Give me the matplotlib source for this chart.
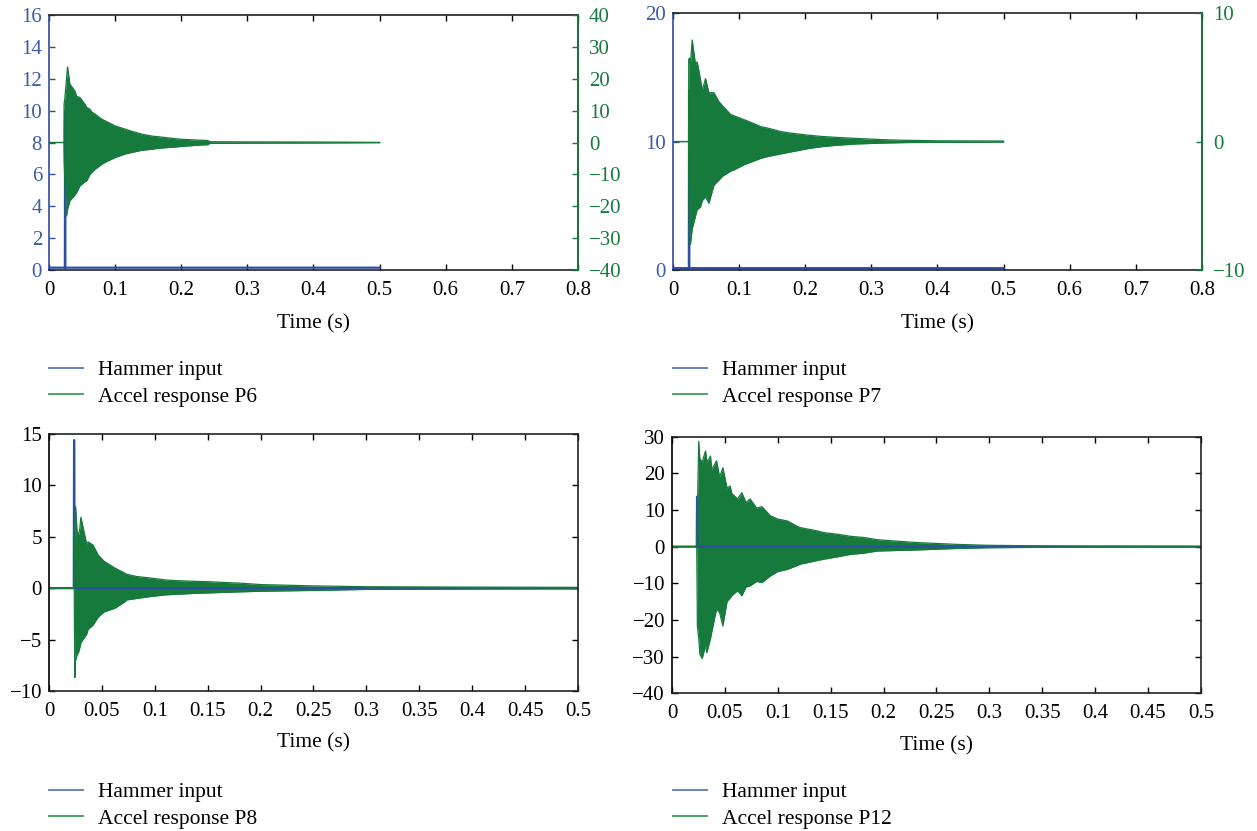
import matplotlib
matplotlib.use("Agg")
import matplotlib.pyplot as plt
import numpy as np

plt.rcParams['font.family'] = ['Liberation Serif', 'DejaVu Serif']
plt.rcParams['axes.unicode_minus'] = True

BLUE = '#2d4ea3'
BLUE_TXT = '#3c5aa8'
GREEN = '#157a3c'

# ---- data ----
# P6: hammer on left axis, response (envelope of the dense trace) on right axis
p6_hammer_t = [0, 0.0240, 0.0243, 0.0247, 0.5]
p6_hammer_v = [0.15, 0.15, 10.0, 0.15, 0.15]
p6_t = [0, 0.0225, 0.0228, 0.024, 0.0265, 0.028, 0.0315, 0.039, 0.0417, 0.0467,
        0.0543, 0.057, 0.062, 0.0645, 0.0696, 0.08, 0.0848, 0.1, 0.115, 0.1254,
        0.141, 0.156, 0.166, 0.191, 0.2015, 0.232, 0.24, 0.243, 0.3, 0.4, 0.5]
p6_upper = [0, 0, 12, 14, 20, 23.7, 18.3, 16.2, 14.5, 14.1,
            12, 11, 10.4, 9.6, 8.9, 7.3, 6.8, 5.2, 4.2, 3.5,
            2.6, 2.0, 1.8, 1.2, 1.0, 0.7, 0.65, 0.25, 0.2, 0.15, 0.05]
p6_lower = [0, 0, -6, -12, -23, -21, -18.3, -16.5, -15.7, -13.6,
            -12.3, -12, -10, -9.4, -8.4, -6.8, -6.2, -4.7, -3.6, -3.1,
            -2.4, -2.1, -1.8, -1.4, -1.2, -0.75, -0.7, -0.3, -0.2, -0.15, -0.05]

# P7
p7_hammer_t = [0, 0.0240, 0.0243, 0.0247, 0.5]
p7_hammer_v = [0.15, 0.15, 14.0, 0.15, 0.15]
p7_t = [0, 0.0236, 0.0238, 0.025, 0.0264, 0.029, 0.034, 0.0366, 0.0416, 0.0442,
        0.0492, 0.0543, 0.0619, 0.0695, 0.0747, 0.0873, 0.0924, 0.1076, 0.1128, 0.133,
        0.143, 0.1636, 0.179, 0.204, 0.2245, 0.245, 0.275, 0.316, 0.35, 0.4, 0.5]
p7_upper = [0, 0, 6.4, 6.5, 6.0, 7.9, 6.0, 6.2, 4.8, 4.0,
            4.9, 3.8, 3.8, 3.1, 2.8, 2.1, 2.0, 1.7, 1.6, 1.16,
            1.05, 0.77, 0.65, 0.5, 0.4, 0.33, 0.25, 0.15, 0.1, 0.06, 0.04]
p7_lower = [0, 0, -3, -7, -8.0, -6.8, -5.8, -5.3, -5.1, -4.6,
            -4.3, -4.8, -3.4, -3.0, -2.7, -2.3, -2.2, -1.8, -1.7, -1.3,
            -1.17, -0.95, -0.8, -0.55, -0.4, -0.3, -0.19, -0.12, -0.08, -0.06, -0.04]

# P8 (single axis)
p8_hammer_t = [0, 0.0234, 0.0237, 0.0242, 0.5]
p8_hammer_v = [0, 0, 14.4, 0, 0]
p8_t = [0, 0.0238, 0.0244, 0.0251, 0.0265, 0.028, 0.0291, 0.0301, 0.0355, 0.037,
        0.0415, 0.0466, 0.0522, 0.0624, 0.0719, 0.0735, 0.083, 0.097, 0.11, 0.119,
        0.1415, 0.148, 0.18, 0.2, 0.25, 0.3, 0.4, 0.5]
p8_upper = [0, 0, 5.5, 7.95, 5.5, 5.2, 5.8, 6.9, 4.3, 4.5,
            4.2, 3.2, 2.6, 1.95, 1.45, 1.35, 1.13, 0.97, 0.8, 0.74,
            0.65, 0.64, 0.49, 0.35, 0.22, 0.14, 0.1, 0.08]
p8_lower = [0, 0, -8.7, -7.0, -6.5, -6.2, -5.8, -5.3, -4.5, -4.0,
            -3.6, -2.8, -2.3, -1.95, -1.3, -1.14, -1.0, -0.8, -0.65, -0.6,
            -0.49, -0.47, -0.36, -0.3, -0.22, -0.12, -0.08, -0.06]

# P12 (single axis)
p12_hammer_t = [0, 0.0234, 0.0237, 0.0242, 0.5]
p12_hammer_v = [0, 0, 13.6, 0, 0]
p12_t = [0, 0.0234, 0.024, 0.0253, 0.0263, 0.0285, 0.0317, 0.033, 0.0364, 0.0375,
         0.0421, 0.045, 0.0481, 0.052, 0.055, 0.0565, 0.062, 0.066, 0.07, 0.0738,
         0.08, 0.085, 0.093, 0.1, 0.109, 0.118, 0.121, 0.137, 0.144, 0.156,
         0.169, 0.181, 0.194, 0.207, 0.232, 0.27, 0.3, 0.35, 0.4, 0.5]
p12_upper = [0, 0, 10, 28.7, 24, 23, 26.1, 23, 24.7, 21,
             23.4, 19, 21.5, 16, 16.5, 14.5, 13, 14.7, 12, 13.0,
             10.5, 10.9, 8.4, 7.5, 7.0, 5.6, 5.2, 4.3, 3.8, 3.4,
             2.8, 2.5, 1.9, 1.6, 1.1, 0.6, 0.35, 0.2, 0.12, 0.05]
p12_lower = [0, 0, -21.6, -25, -29.3, -30.5, -27, -28.9, -25, -23.4,
             -17, -18, -21.6, -15, -14, -13.4, -12, -13.4, -11, -10.7,
             -9.5, -9.8, -8, -6.8, -6.2, -5.2, -4.8, -3.8, -3.4, -2.8,
             -2.1, -1.8, -1.2, -1.1, -0.9, -0.5, -0.3, -0.2, -0.1, -0.05]

FS = 15
LFS = 15.5
fig = plt.figure(figsize=(12.57, 8.31), dpi=100)


def style(ax, left_color='black', right=True):
    ax.tick_params(direction='in', length=4, width=1, labelsize=FS,
                   top=True, right=right)
    ax.tick_params(axis='x', pad=8)
    ax.tick_params(axis='y', pad=5)
    for s in ax.spines.values():
        s.set_linewidth(1.2)
        s.set_color('#222222')
    ax.spines['left'].set_color(left_color)


def response(ax, t, up, lo):
    ax.fill_between(t, lo, up, color=GREEN, lw=0)
    ax.plot(t, up, color=GREEN, lw=0.9)
    ax.plot(t, lo, color=GREEN, lw=0.9)


def legend(anchor, a_label):
    handles = [plt.Line2D([], [], color='#5a76c4', lw=1.3),
               plt.Line2D([], [], color='#3d9a5c', lw=1.3)]
    fig.legend(handles, ['Hammer input', a_label], loc='upper left',
               bbox_to_anchor=anchor, frameon=False, fontsize=LFS,
               borderpad=0, borderaxespad=0, handlelength=1.58,
               handletextpad=0.7, labelspacing=0.3)


def minus(vals):
    return [str(v).replace('-', '\u2212') for v in vals]


def two_axis_panel(rect, ht, hv, t, up, lo, yl, yl_ticks, yr, yr_ticks):
    ax = fig.add_axes(rect)
    ax.plot(ht, hv, color=BLUE, lw=1.6)
    ax.set_xlim(0, 0.8)
    ax.set_ylim(*yl)
    ax.set_yticks(yl_ticks)
    ax.set_xticks(np.arange(0, 0.81, 0.1))
    ax.set_xticklabels(['0', '0.1', '0.2', '0.3', '0.4', '0.5', '0.6', '0.7', '0.8'])
    style(ax, left_color=BLUE, right=False)
    ax.tick_params(axis='y', colors=BLUE, labelcolor=BLUE_TXT)
    ax.set_xlabel('Time (s)', fontsize=LFS, labelpad=10)
    ax2 = ax.twinx()
    response(ax2, t, up, lo)
    ax2.set_ylim(*yr)
    ax2.set_yticks(yr_ticks)
    ax2.set_yticklabels(minus(yr_ticks))
    ax2.tick_params(direction='in', length=4, width=1, labelsize=FS,
                    colors=GREEN, labelcolor=GREEN, pad=8)
    for s in ax2.spines.values():
        s.set_visible(False)
    ax2.spines['right'].set_visible(True)
    ax2.spines['right'].set_color(GREEN)
    ax2.spines['right'].set_linewidth(1.2)
    return ax


def single_panel(rect, ht, hv, t, up, lo, ylim, yticks):
    ax = fig.add_axes(rect)
    ax.plot(ht, hv, color=BLUE, lw=1.6)
    response(ax, t, up, lo)
    ax.set_xlim(0, 0.5)
    ax.set_ylim(*ylim)
    ax.set_yticks(yticks)
    ax.set_yticklabels(minus(yticks))
    xt = np.round(np.arange(0, 0.501, 0.05), 2)
    ax.set_xticks(xt)
    ax.set_xticklabels(['0' if v == 0 else f'{v:g}' for v in xt])
    style(ax)
    ax.set_xlabel('Time (s)', fontsize=LFS, labelpad=9)
    return ax


two_axis_panel([0.039, 0.675, 0.4208, 0.307], p6_hammer_t, p6_hammer_v,
               p6_t, p6_upper, p6_lower, (0, 16), list(range(0, 17, 2)),
               (-40, 40), list(range(-40, 41, 10)))
two_axis_panel([0.5354, 0.675, 0.4208, 0.3093], p7_hammer_t, p7_hammer_v,
               p7_t, p7_upper, p7_lower, (0, 20), [0, 10, 20],
               (-10, 10), [-10, 0, 10])
single_panel([0.039, 0.1685, 0.4208, 0.3093], p8_hammer_t, p8_hammer_v,
             p8_t, p8_upper, p8_lower, (-10, 15), [-10, -5, 0, 5, 10, 15])
single_panel([0.5346, 0.1657, 0.4208, 0.3089], p12_hammer_t, p12_hammer_v,
             p12_t, p12_upper, p12_lower, (-40, 30), list(range(-40, 31, 10)))

legend((0.039, 0.5665), 'Accel response P6')
legend((0.5354, 0.5665), 'Accel response P7')
legend((0.039, 0.059), 'Accel response P8')
legend((0.5354, 0.059), 'Accel response P12')

fig.savefig('out.png', dpi=100)
